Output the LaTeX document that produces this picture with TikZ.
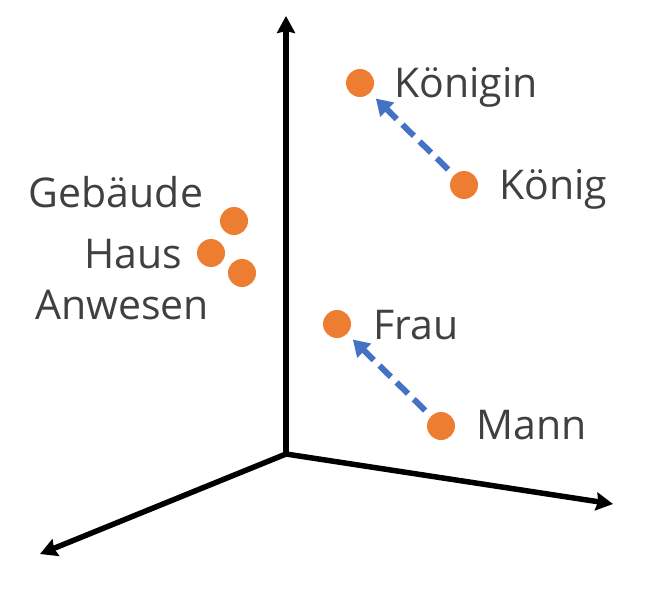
\documentclass[tikz,border=0pt]{standalone}
\usepackage{fontspec}
\setmainfont{Open Sans}
\usepackage{tikz}
\usetikzlibrary{arrows.meta,positioning}
\usepackage{xcolor}
\definecolor{wvorange}{RGB}{237,125,49}
\definecolor{wvblue}{RGB}{68,114,196}
\definecolor{wvtext}{RGB}{64,64,64}
\tikzstyle{axis} = [line width=5.5pt, -{Stealth[length=17pt, width=18pt, inset=2pt]}, color=black]
\tikzstyle{analogy} = [line width=6pt, dash pattern=on 16pt off 8pt, -{Triangle[length=16pt, width=19pt]}, color=wvblue, shorten <=8pt, shorten >=8pt]
\tikzstyle{word} = [circle, fill=wvorange, minimum size=28pt, inner sep=0pt]
\tikzstyle{wordlabel} = [inner sep=0pt, text=wvtext, font=\fontsize{41}{48}\selectfont]

\begin{document}
\begin{tikzpicture}[x=1pt, y=-1pt]
\useasboundingbox (0,0) rectangle (666,591);
% Axes
\coordinate (origin) at (286,454);
\coordinate (ytip) at (286,16);
\coordinate (xtip) at (613,504);
\coordinate (ztip) at (40,554);
\draw[axis] (origin) -- (ytip);
\draw[axis] (origin) -- (xtip);
\draw[axis] (origin) -- (ztip);

% Word vectors
\node[word] (koenigin) at (360,83) {};
\node[word] (koenig) at (464,185) {};
\node[word] (frau) at (337,324) {};
\node[word] (mann) at (441,426) {};
\node[word] (gebaeude) at (234,221) {};
\node[word] (haus) at (211,253) {};
\node[word] (anwesen) at (242,273) {};

\draw[analogy] (koenig) -- (koenigin);
\draw[analogy] (mann) -- (frau);

% Labels
\node[wordlabel, anchor=base west] (lkoenigin) at (394,98) {Königin};
\node[wordlabel, anchor=base west] (lkoenig) at (499,199) {König};
\node[wordlabel, anchor=base west] (lfrau) at (373,339) {Frau};
\node[wordlabel, anchor=base west] (lmann) at (476,439) {Mann};
\node[wordlabel, anchor=base] (lgebaeude) at (116,207) {Gebäude};
\node[wordlabel, anchor=base] (lhaus) at (133,268) {Haus};
\node[wordlabel, anchor=base] (lanwesen) at (122,319) {Anwesen};
\end{tikzpicture}
\end{document}
